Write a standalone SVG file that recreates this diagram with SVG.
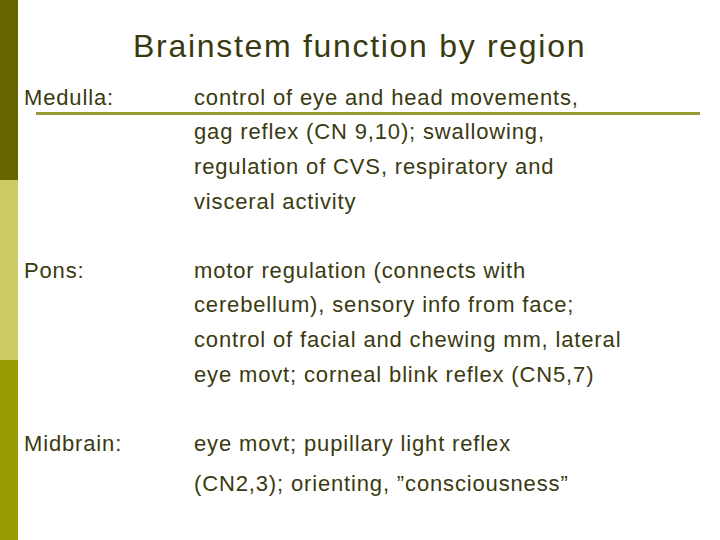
<svg xmlns="http://www.w3.org/2000/svg" width="720" height="540" viewBox="0 0 720 540">
<style>
text{font-family:"Liberation Sans",Arial,sans-serif;fill:#3a3a10;font-size:22px;letter-spacing:0.85px}
.t{font-size:32px;letter-spacing:1.7px}
</style>
<rect width="720" height="540" fill="#fff"/>
<rect x="0" y="0" width="18" height="180" fill="#666600"/>
<rect x="0" y="180" width="18" height="180" fill="#cccc66"/>
<rect x="0" y="360" width="18" height="180" fill="#999900"/>
<rect x="36" y="112" width="664" height="3" fill="#999933"/>
<text class="t" x="133" y="57">Brainstem function by region</text>
<g id="medulla">
<text x="24" y="105">Medulla:</text>
<text x="194" y="105">control of eye and head movements,</text>
<text x="194" y="139">gag reflex (CN 9,10); swallowing,</text>
<text x="194" y="174">regulation of CVS, respiratory and</text>
<text x="194" y="209">visceral activity</text>
</g>
<g id="pons">
<text x="24" y="278">Pons:</text>
<text x="194" y="278">motor regulation (connects with</text>
<text x="194" y="312">cerebellum), sensory info from face;</text>
<text x="194" y="347">control of facial and chewing mm, lateral</text>
<text x="194" y="382">eye movt; corneal blink reflex (CN5,7)</text>
</g>
<g id="midbrain">
<text x="24" y="451">Midbrain:</text>
<text x="194" y="451">eye movt; pupillary light reflex</text>
<text x="194" y="491">(CN2,3); orienting, ”consciousness”</text>
</g>
</svg>
